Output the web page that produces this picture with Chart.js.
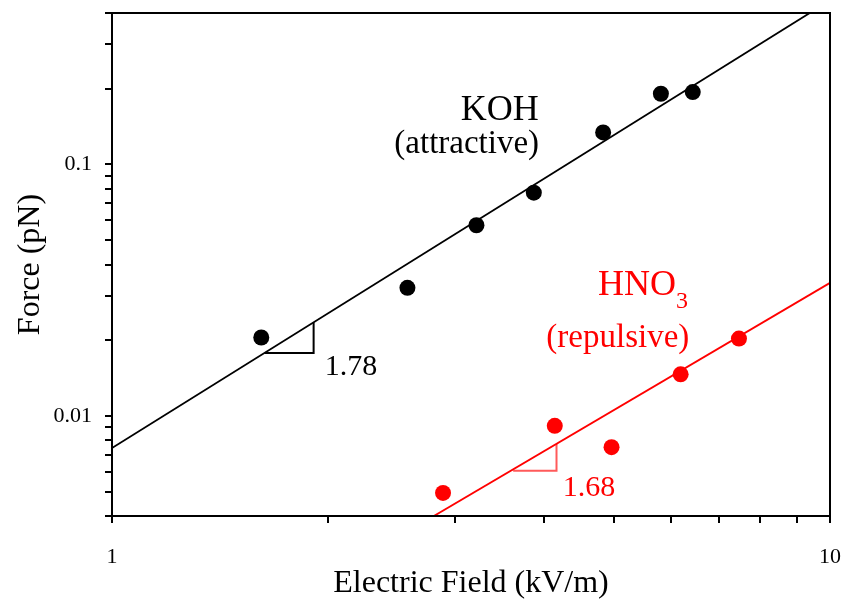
<!DOCTYPE html>
<html>
<head>
<meta charset="utf-8">
<script src="https://cdn.jsdelivr.net/npm/chart.js@4/dist/chart.umd.min.js"></script>
<style>
  html, body { margin: 0; padding: 0; background: #fff; }
  #wrap { width: 843px; height: 604px; position: relative; }
</style>
</head>
<body>
<div id="wrap"><canvas id="chart"></canvas></div>
<script>
// ── Data (log–log) ──
const fieldKOH  = [1.614, 2.579, 3.218, 3.868, 4.831, 5.814, 6.44];
const forceKOH  = [0.0205, 0.0323, 0.0573, 0.0772, 0.134, 0.191, 0.194];
const fieldHNO3 = [2.891, 4.137, 4.963, 6.194, 7.468];
const forceHNO3 = [0.00494, 0.00913, 0.00751, 0.01464, 0.0203];

// power-law fit lines, end points at E = 1 and E = 10
const fitX      = [1, 10];
const fitKOH    = [0.00745, 0.449];
const fitHNO3   = [0.000706, 0.0338];

// slope triangles
const triKOHx   = [1.631, 1.909, 1.909];
const triKOHy   = [0.01778, 0.01778, 0.02355];
const triHNO3x  = [3.62, 4.16, 4.16];
const triHNO3y  = [0.00605, 0.00605, 0.00774];

// axis ticks
const xTicks = [1, 2, 3, 4, 5, 6, 7, 8, 9, 10];
const xLabels = { 1: '1', 10: '10' };
const yTicks = [0.004, 0.005, 0.006, 0.007, 0.008, 0.009, 0.01,
                0.02, 0.03, 0.04, 0.05, 0.06, 0.07, 0.08, 0.09, 0.1,
                0.2, 0.3, 0.4];
const yLabels = { 0.01: '0.01', 0.1: '0.1' };

const RED = '#ff0000';
const SERIF = "'Liberation Serif', 'Times New Roman', serif";

const pts = (xs, ys) => xs.map((x, i) => ({ x, y: ys[i] }));

// ── Text annotations, anchored in data units ──
const notes = [
  { text: 'KOH',          x: 3.467, y: 0.1495,  size: 36, color: '#000', align: 'center' },
  { text: '(attractive)', x: 3.119, y: 0.1106,  size: 33, color: '#000', align: 'center' },
  { text: 'HNO',          x: 4.751, y: 0.0302,  size: 36, color: RED,    align: 'left', sub: '3' },
  { text: '(repulsive)',  x: 5.064, y: 0.01878, size: 33, color: RED,    align: 'center' },
  { text: '1.78',         x: 1.978, y: 0.01454, size: 30, color: '#000', align: 'left' },
  { text: '1.68',         x: 4.245, y: 0.004815, size: 30, color: RED,   align: 'left' },
];

const notesPlugin = {
  id: 'notes',
  afterDatasetsDraw(chart) {
    const { ctx, scales: { x, y } } = chart;
    ctx.save();
    ctx.textBaseline = 'alphabetic';
    notes.forEach(n => {
      const px = x.getPixelForValue(n.x);
      const py = y.getPixelForValue(n.y);
      ctx.font = `${n.size}px ${SERIF}`;
      ctx.fillStyle = n.color;
      ctx.textAlign = n.align;
      ctx.fillText(n.text, px, py);
      if (n.sub) {
        const w = ctx.measureText(n.text).width;
        ctx.font = `24px ${SERIF}`;
        ctx.textAlign = 'left';
        ctx.fillText(n.sub, px + w, py + 13);
      }
    });
    ctx.restore();
  }
};

// frame on top and right sides
const framePlugin = {
  id: 'frame',
  afterDraw(chart) {
    const { ctx, chartArea: a } = chart;
    ctx.save();
    ctx.strokeStyle = '#000';
    ctx.lineWidth = 2;
    ctx.strokeRect(a.left, a.top, a.right - a.left, a.bottom - a.top);
    ctx.restore();
  }
};

Chart.defaults.font.family = SERIF;
Chart.defaults.color = '#000';

new Chart(document.getElementById('chart'), {
  type: 'scatter',
  data: {
    datasets: [
      { data: pts(fitX, fitKOH), showLine: true, borderColor: '#000', borderWidth: 1.8, pointRadius: 0 },
      { data: pts(fitX, fitHNO3), showLine: true, borderColor: RED, borderWidth: 1.8, pointRadius: 0 },
      { data: pts(triKOHx, triKOHy), showLine: true, borderColor: '#000', borderWidth: 2, pointRadius: 0 },
      { data: pts(triHNO3x, triHNO3y), showLine: true, borderColor: '#ff5a5a', borderWidth: 2, pointRadius: 0 },
      { label: 'KOH', data: pts(fieldKOH, forceKOH), backgroundColor: '#000', borderWidth: 0, pointRadius: 8 },
      { label: 'HNO3', data: pts(fieldHNO3, forceHNO3), backgroundColor: RED, borderWidth: 0, pointRadius: 8 },
    ]
  },
  options: {
    responsive: true,
    maintainAspectRatio: false,
    animation: false,
    layout: { padding: { top: 13, right: 13, bottom: 0, left: 0 } },
    plugins: { legend: { display: false }, tooltip: { enabled: false } },
    scales: {
      x: {
        type: 'logarithmic', min: 1, max: 10,
        afterBuildTicks: s => { s.ticks = xTicks.map(v => ({ value: v })); },
        afterFit: s => { s.height = 88; s.paddingLeft = 0; s.paddingRight = 0; },
        ticks: {
          autoSkip: false, maxRotation: 0, padding: 21,
          font: { size: 22 }, color: '#000',
          callback: v => xLabels[v] || ''
        },
        grid: { drawOnChartArea: false, tickLength: 7, color: '#000', lineWidth: 2 },
        border: { display: true, color: '#000', width: 2 },
        title: { display: true, text: 'Electric Field (kV/m)', font: { size: 32, lineHeight: 1 }, color: '#000', padding: { top: 0, bottom: 4 } }
      },
      y: {
        type: 'logarithmic', min: 0.004, max: 0.4,
        afterBuildTicks: s => { s.ticks = yTicks.map(v => ({ value: v })); },
        afterFit: s => { s.width = 112; s.paddingTop = 0; s.paddingBottom = 0; },
        ticks: {
          autoSkip: false, padding: 13,
          font: { size: 22 }, color: '#000',
          callback: v => yLabels[v] || ''
        },
        grid: { drawOnChartArea: false, tickLength: 7, color: '#000', lineWidth: 2 },
        border: { display: true, color: '#000', width: 2 },
        title: { display: true, text: 'Force (pN)', font: { size: 32, lineHeight: 1 }, color: '#000', padding: { top: 15, bottom: 0 } }
      }
    }
  },
  plugins: [notesPlugin, framePlugin]
});
</script>
</body>
</html>
